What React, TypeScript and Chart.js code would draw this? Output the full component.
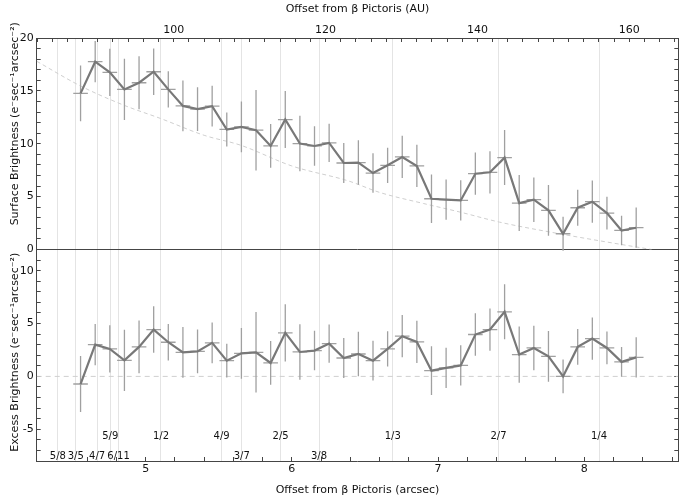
import React, { useEffect, useRef } from 'react';
import { Chart, registerables } from 'chart.js';

Chart.register(...registerables);

// ---- axis ranges ----
const X_MIN = 4.255;
const X_MAX = 8.643;
const AU_PER_ARCSEC = 19.26; // distance of beta Pictoris (pc)
const SB_MIN = 0;
const SB_MAX = 20;
const EX_MIN = -8;
const EX_MAX = 12;

// ---- data ----
const binCenters = [
  4.555, 4.655, 4.755, 4.855, 4.955, 5.055, 5.155, 5.255, 5.355, 5.455,
  5.555, 5.655, 5.755, 5.855, 5.955, 6.055, 6.155, 6.255, 6.355, 6.455,
  6.555, 6.655, 6.755, 6.855, 6.955, 7.055, 7.155, 7.255, 7.355, 7.455,
  7.555, 7.655, 7.755, 7.855, 7.955, 8.055, 8.155, 8.255, 8.355,
];
const binHalfWidth = 0.05;

const surfaceBrightness = [
  14.76, 17.76, 16.75, 15.14, 15.77, 16.81, 15.14, 13.58, 13.27, 13.55,
  11.35, 11.6, 11.28, 9.79, 12.29, 10.02, 9.79, 10.08, 8.18, 8.22,
  7.23, 7.96, 8.75, 7.9, 4.8, 4.71, 4.64, 7.17, 7.3, 8.69,
  4.39, 4.71, 3.7, 1.49, 3.95, 4.52, 3.44, 1.8, 2.06,
];

const excessBrightness = [
  -0.72, 3.0, 2.6, 1.52, 2.79, 4.43, 3.23, 2.28, 2.37, 3.17,
  1.49, 2.18, 2.28, 1.27, 4.12, 2.31, 2.44, 3.1, 1.74, 2.12,
  1.49, 2.6, 3.8, 3.26, 0.54, 0.8, 1.04, 3.96, 4.43, 6.11,
  2.06, 2.69, 1.9, 0.0, 2.79, 3.58, 2.69, 1.37, 1.8,
];

const brightnessErrors = [
  2.64, 1.95, 2.23, 2.9, 2.5, 2.2, 1.72, 2.4, 2.07, 1.93,
  1.6, 2.4, 3.8, 2.07, 2.7, 2.63, 1.87, 1.8, 1.9, 2.1,
  1.87, 1.66, 2.0, 2.0, 2.3, 1.9, 1.9, 2.0, 2.0, 2.6,
  2.65, 2.1, 2.4, 1.6, 1.7, 2.0, 1.55, 1.4, 1.9,
];

const modelX = [4.255, 4.55, 4.85, 5.1, 5.4, 5.65, 6.0, 6.39, 6.6, 6.9, 7.15, 7.42, 7.83, 8.2, 8.46];
const modelY = [17.8, 15.5, 13.65, 12.4, 10.8, 9.86, 7.9, 6.47, 5.4, 4.35, 3.54, 2.59, 1.49, 0.6, 0.0];

const resonanceLabels = ['5/8', '3/5', '4/7', '5/9', '6/11', '1/2', '4/9', '3/7', '2/5', '3/8', '1/3', '2/7', '1/4'];
const resonancePositions = [4.40, 4.522, 4.668, 4.758, 4.815, 5.105, 5.52, 5.657, 5.923, 6.186, 6.69, 7.413, 8.101];
const resonanceRows = [1, 1, 1, 0, 1, 0, 0, 1, 0, 1, 0, 0, 0];

const arcsecMajorTicks = [5, 6, 7, 8];
const auMajorTicks = [100, 120, 140, 160];

const UNIT = '(e\u207Bsec\u207B\u00B9arcsec\u207B\u00B2)';
const TOP_Y_TITLE = 'Surface Brightness ' + UNIT;
const BOTTOM_Y_TITLE = 'Excess Brightness ' + UNIT;

const FONT = 'DejaVu Sans';
const AXIS_COLOR = '#454545';

const annotationPlugin = {
  id: 'resonanceLabels',
  afterDatasetsDraw(chart: any) {
    const { ctx, chartArea } = chart;
    const xs = chart.scales.x;
    ctx.save();
    ctx.font = `10px "${FONT}"`;
    ctx.fillStyle = '#111';
    ctx.textAlign = 'center';
    ctx.textBaseline = 'middle';
    resonanceLabels.forEach((lab, i) => {
      const px = xs.getPixelForValue(resonancePositions[i]);
      const py = resonanceRows[i] === 1 ? chartArea.bottom - 5 : chartArea.bottom - 25;
      ctx.fillText(lab, px, py);
    });
    ctx.restore();

    // rotated y-axis titles
    const yTop = chart.scales.y;
    const yBot = chart.scales.y2;
    const drawV = (text: string, cx: number, cy: number) => {
      ctx.save();
      ctx.translate(cx, cy);
      ctx.rotate(-Math.PI / 2);
      ctx.font = `11px "${FONT}"`;
      ctx.fillStyle = '#111';
      ctx.textAlign = 'center';
      ctx.textBaseline = 'middle';
      ctx.fillText(text, 0, 0);
      ctx.restore();
    };
    drawV(TOP_Y_TITLE, 15, (yTop.top + yTop.bottom) / 2 - 20);
    drawV(BOTTOM_Y_TITLE, 15, (yBot.top + yBot.bottom) / 2 - 3);
  },
};

export default function App() {
  const ref = useRef<HTMLCanvasElement>(null);

  useEffect(() => {
    const canvas = ref.current!;
    const errorBars = (ys: number[]) => {
      const pts: any[] = [];
      binCenters.forEach((x, i) => {
        pts.push({ x, y: ys[i] - brightnessErrors[i] }, { x, y: ys[i] + brightnessErrors[i] }, { x, y: null });
      });
      return pts;
    };
    const caps = (ys: number[]) => {
      const pts: any[] = [];
      binCenters.forEach((x, i) => {
        pts.push({ x: x - binHalfWidth, y: ys[i] }, { x: x + binHalfWidth, y: ys[i] }, { x, y: null });
      });
      return pts;
    };
    const line = (ys: number[]) => binCenters.map((x, i) => ({ x, y: ys[i] }));

    const tickFont = { family: FONT, size: 11 };
    const titleFont = { family: FONT, size: 11 };
    const isMajor = (v: number, majors: number[]) => majors.some((m) => Math.abs(m - v) < 1e-6);
    const yTicksCb = (v: any) => (Math.abs(v % 5) < 1e-6 ? String(v) : '');

    const chart = new Chart(canvas, {
      type: 'line',
      data: {
        datasets: [
          { data: line(surfaceBrightness), xAxisID: 'x', yAxisID: 'y', borderColor: '#787878', borderWidth: 2.2, pointRadius: 0, clip: false } as any,
          { data: line(excessBrightness), xAxisID: 'x', yAxisID: 'y2', borderColor: '#787878', borderWidth: 2.2, pointRadius: 0, clip: false } as any,
          { data: errorBars(surfaceBrightness), xAxisID: 'x', yAxisID: 'y', borderColor: '#a0a0a0', borderWidth: 1.3, pointRadius: 0, spanGaps: false, clip: false } as any,
          { data: caps(surfaceBrightness), xAxisID: 'x', yAxisID: 'y', borderColor: '#a0a0a0', borderWidth: 1.3, pointRadius: 0, spanGaps: false, clip: false } as any,
          { data: errorBars(excessBrightness), xAxisID: 'x', yAxisID: 'y2', borderColor: '#a0a0a0', borderWidth: 1.3, pointRadius: 0, spanGaps: false, clip: false } as any,
          { data: caps(excessBrightness), xAxisID: 'x', yAxisID: 'y2', borderColor: '#a0a0a0', borderWidth: 1.3, pointRadius: 0, spanGaps: false, clip: false } as any,
          { data: modelX.map((x, i) => ({ x, y: modelY[i] })), xAxisID: 'x', yAxisID: 'y', borderColor: '#cfcfcf', borderWidth: 1, borderDash: [4, 3], pointRadius: 0, cubicInterpolationMode: 'monotone' } as any,
          { data: [{ x: X_MIN, y: 0 }, { x: X_MAX, y: 0 }], xAxisID: 'x', yAxisID: 'y2', borderColor: '#cfcfcf', borderWidth: 1, borderDash: [5, 4], pointRadius: 0 } as any,
        ],
      },
      options: {
        animation: false,
        responsive: false,
        devicePixelRatio: 1,
        events: [],
        layout: { padding: { left: 0, right: 6.7, top: 0, bottom: 0 } },
        plugins: { legend: { display: false }, tooltip: { enabled: false } },
        scales: {
          x: {
            type: 'linear', position: 'bottom', min: X_MIN, max: X_MAX,
            ticks: {
              stepSize: 0.2, includeBounds: false, autoSkip: false, maxRotation: 0, padding: 6,
              color: '#111', font: tickFont,
              callback: (v: any) => (isMajor(v, arcsecMajorTicks) ? String(Math.round(v)) : ''),
            },
            grid: { drawOnChartArea: false, tickLength: -4, tickColor: AXIS_COLOR },
            border: { color: AXIS_COLOR },
            title: { display: true, text: 'Offset from \u03B2 Pictoris (arcsec)', color: '#111', font: titleFont, padding: { top: 0, bottom: 4 } },
            afterFit: (s: any) => { s.height = 40; },
          },
          xr: {
            type: 'linear', position: 'bottom', min: X_MIN, max: X_MAX,
            afterBuildTicks: (s: any) => { s.ticks = resonancePositions.map((v) => ({ value: v })); },
            ticks: { display: false },
            grid: { color: '#e4e4e4', drawTicks: false, lineWidth: 1 },
            border: { display: false },
            afterFit: (s: any) => { s.height = 0; },
          },
          xt: {
            type: 'linear', position: 'top', min: X_MIN * AU_PER_ARCSEC, max: X_MAX * AU_PER_ARCSEC,
            ticks: {
              stepSize: 2, includeBounds: false, autoSkip: false, maxRotation: 0, padding: 5,
              color: '#111', font: tickFont,
              callback: (v: any) => (isMajor(v, auMajorTicks) ? String(Math.round(v)) : ''),
            },
            grid: { drawOnChartArea: false, tickLength: -4, tickColor: AXIS_COLOR },
            border: { color: AXIS_COLOR },
            title: { display: true, text: 'Offset from \u03B2 Pictoris (AU)', color: '#111', font: titleFont, padding: { top: 3, bottom: 0 } },
            afterFit: (s: any) => { s.height = 38; },
          },
          y2: {
            type: 'linear', position: 'left', stack: 'L', stackWeight: 1, min: EX_MIN, max: EX_MAX,
            ticks: { stepSize: 1, autoSkip: false, padding: 7, color: '#111', font: tickFont, callback: yTicksCb },
            grid: { drawOnChartArea: false, tickColor: AXIS_COLOR, tickLength: -4 },
            border: { color: AXIS_COLOR },
            afterFit: (s: any) => { s.width = 36.7; },
          },
          y: {
            type: 'linear', position: 'left', stack: 'L', stackWeight: 1, min: SB_MIN, max: SB_MAX,
            ticks: { stepSize: 1, autoSkip: false, padding: 7, color: '#111', font: tickFont, callback: yTicksCb },
            grid: { color: (c: any) => (c.tick && c.tick.value === 0 ? AXIS_COLOR : 'rgba(0,0,0,0)'), tickColor: AXIS_COLOR, tickLength: -4 },
            border: { color: AXIS_COLOR },
            afterFit: (s: any) => { s.width = 36.7; },
          },
          yr2: {
            type: 'linear', position: 'right', stack: 'R', stackWeight: 1, min: EX_MIN, max: EX_MAX,
            ticks: { stepSize: 1, display: false },
            grid: { drawOnChartArea: false, tickColor: AXIS_COLOR, tickLength: -4 },
            border: { color: AXIS_COLOR },
            afterFit: (s: any) => { s.width = 0; },
          },
          yr: {
            type: 'linear', position: 'right', stack: 'R', stackWeight: 1, min: SB_MIN, max: SB_MAX,
            ticks: { stepSize: 1, display: false },
            grid: { drawOnChartArea: false, tickColor: AXIS_COLOR, tickLength: -4 },
            border: { color: AXIS_COLOR },
            afterFit: (s: any) => { s.width = 0; },
          },
        },
      } as any,
      plugins: [annotationPlugin],
    });
    return () => chart.destroy();
  }, []);

  return (
    <div style={{ position: 'fixed', left: 0, top: 0, width: 685, height: 501, background: '#fff' }}>
      <canvas ref={ref} width={685} height={501} style={{ width: 685, height: 501, display: 'block' }} />
    </div>
  );
}
